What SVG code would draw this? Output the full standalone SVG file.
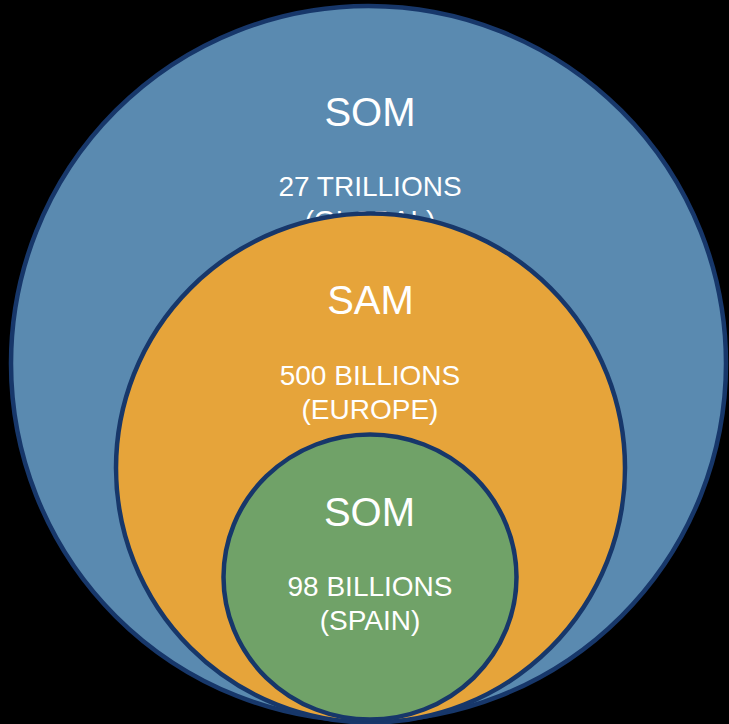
<svg xmlns="http://www.w3.org/2000/svg" width="729" height="724" viewBox="0 0 729 724">
<style>
.c{stroke:#17376a;stroke-width:4.5}
.t{font-family:"Liberation Sans",Arial,sans-serif;fill:#ffffff;text-anchor:middle}
.h{font-size:40px}
.s{font-size:28px}
</style>
<rect width="729" height="724" fill="#000000"/>
<g id="som-global">
<circle class="c" cx="368.5" cy="363.5" r="357.5" fill="#5a8ab0"/>
<text class="t h" x="370" y="126">SOM</text>
<text class="t s" x="370" y="196">27 TRILLIONS</text>
<text class="t s" x="370" y="230">(GLOBAL)</text>
</g>
<g id="sam-europe">
<circle class="c" cx="370.5" cy="468" r="254.5" fill="#e6a43a"/>
<text class="t h" x="370.5" y="314">SAM</text>
<text class="t s" x="370" y="385">500 BILLIONS</text>
<text class="t s" x="370" y="419">(EUROPE)</text>
</g>
<g id="som-spain">
<ellipse class="c" cx="370" cy="577" rx="146.5" ry="142.5" fill="#70a268"/>
<text class="t h" x="369.5" y="526">SOM</text>
<text class="t s" x="370" y="596">98 BILLIONS</text>
<text class="t s" x="370" y="630">(SPAIN)</text>
</g>
<g id="connectors"/>
</svg>
